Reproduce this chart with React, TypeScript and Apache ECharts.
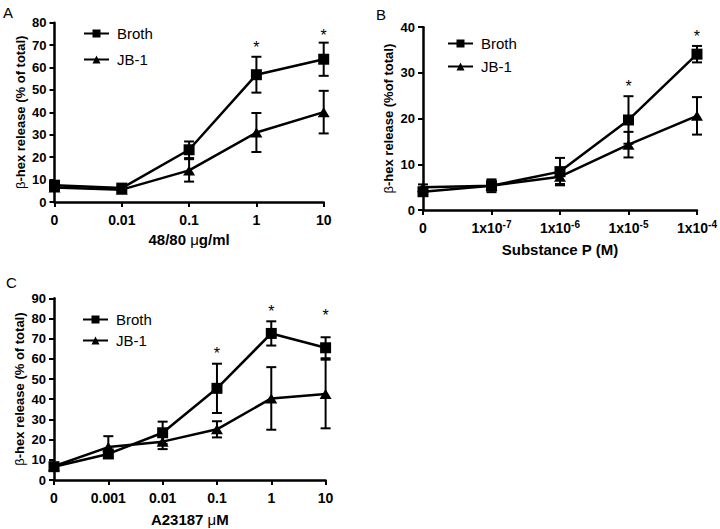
import React, { useEffect, useRef } from "react";
import * as echarts from "echarts";

// Panel A
const catsA = ["0", "0.01", "0.1", "1", "10"];
const brothA = [7.5, 6.2, 23.3, 56.8, 63.7];
const brothErrA = [1.5, 1.2, 3.7, 8.0, 7.4];
const jbA = [6.5, 5.5, 14.1, 31.0, 40.1];
const jbErrA = [1.5, 1.2, 5.0, 8.7, 9.5];
const starsA = [null, null, null, 70.8, 76.0];

// Panel B
const catsB = ["0", "1x10^-7", "1x10^-6", "1x10^-5", "1x10^-4"];
const brothB = [4.0, 5.3, 8.4, 19.7, 34.1];
const brothErrB = [0.7, 1.4, 3.0, 5.2, 1.8];
const jbB = [5.0, 5.3, 7.3, 14.3, 20.6];
const jbErrB = [0.6, 1.0, 1.6, 2.8, 4.1];
const starsB = [null, null, null, 27.9, 38.9];

// Panel C
const catsC = ["0", "0.001", "0.01", "0.1", "1", "10"];
const brothC = [6.6, 12.9, 23.4, 45.4, 72.6, 65.5];
const brothErrC = [1.0, 1.8, 5.5, 12.2, 6.0, 5.2];
const jbC = [6.8, 16.3, 19.0, 25.1, 40.4, 42.6];
const jbErrC = [1.0, 5.4, 3.7, 4.0, 15.5, 17.0];
const starsC = [null, null, null, 64.7, 85.5, 83.7];

const FONT = "'Liberation Sans', Arial, sans-serif";

function errData(vals: number[], errs: number[]) {
  return vals.map((v, i) => [i, v - errs[i], v + errs[i]]);
}

function starData(vals: (number | null)[]) {
  const out: number[][] = [];
  vals.forEach((v, i) => {
    if (v !== null) out.push([i, v]);
  });
  return out;
}

const errRender = (params: any, api: any) => {
  const i = api.value(0);
  const lo = api.coord([i, api.value(1)]);
  const hi = api.coord([i, api.value(2)]);
  const w = 5;
  const style = { stroke: "#000", lineWidth: 2 };
  return {
    type: "group",
    children: [
      { type: "line", shape: { x1: lo[0], y1: lo[1], x2: hi[0], y2: hi[1] }, style },
      { type: "line", shape: { x1: hi[0] - w, y1: hi[1], x2: hi[0] + w, y2: hi[1] }, style },
      { type: "line", shape: { x1: lo[0] - w, y1: lo[1], x2: lo[0] + w, y2: lo[1] }, style },
    ],
  };
};

const starRender = (params: any, api: any) => {
  const p = api.coord([api.value(0), api.value(1)]);
  return {
    type: "text",
    x: p[0],
    y: p[1] + 4,
    style: {
      text: "*",
      fontSize: 16,
      fontFamily: FONT,
      fill: "#000",
      align: "center",
      verticalAlign: "middle",
    },
  };
};

function xAxis(gridIndex: number, cats: string[], name: string, nameGap: number) {
  return {
    type: "category",
    gridIndex,
    data: cats,
    boundaryGap: false,
    name,
    nameLocation: "middle",
    nameGap,
    nameTextStyle: {
      fontSize: 15,
      fontWeight: "bold",
      fontFamily: FONT,
      color: "#000",
      rich: { g: { fontSize: 15, fontWeight: "normal", fontFamily: FONT, color: "#000" } },
    },
    axisLine: { show: true, lineStyle: { color: "#000", width: 2.5 } },
    axisTick: { show: true, inside: false, length: 5, alignWithLabel: true, lineStyle: { color: "#000", width: 2 } },
    axisLabel: {
      show: true,
      interval: 0,
      margin: 9,
      fontSize: 14,
      fontWeight: "bold",
      fontFamily: FONT,
      color: "#000",
      lineHeight: 18,
      formatter: (s: string) => s.replace(/\^(.+)$/, "{sup|$1}"),
      rich: {
        sup: { fontSize: 10, fontWeight: "bold", fontFamily: FONT, color: "#000", lineHeight: 10, verticalAlign: "top" },
      },
    },
    splitLine: { show: false },
  };
}

function yAxis(gridIndex: number, max: number, name: string) {
  return {
    type: "value",
    gridIndex,
    min: 0,
    max,
    interval: 10,
    name,
    nameLocation: "middle",
    nameRotate: 90,
    nameGap: 28,
    nameTextStyle: {
      fontSize: 13,
      fontWeight: "bold",
      fontFamily: FONT,
      color: "#000",
      rich: { g: { fontSize: 13, fontWeight: "normal", fontFamily: FONT, color: "#000" } },
    },
    axisLine: { show: true, lineStyle: { color: "#000", width: 2.5 } },
    axisTick: { show: true, inside: false, length: 5, lineStyle: { color: "#000", width: 2 } },
    axisLabel: { margin: 8, fontSize: 13, fontWeight: "bold", fontFamily: FONT, color: "#000" },
    splitLine: { show: false },
  };
}

function panelSeries(idx: number, broth: number[], bErr: number[], jb: number[], jErr: number[], stars: (number | null)[]) {
  const lineCommon = {
    type: "line",
    xAxisIndex: idx,
    yAxisIndex: idx,
    lineStyle: { color: "#000", width: 2.5 },
    itemStyle: { color: "#000" },
    z: 3,
  };
  return [
    { ...lineCommon, name: "Broth", data: broth, symbol: "rect", symbolSize: 11 },
    { ...lineCommon, name: "JB-1", data: jb, symbol: "triangle", symbolSize: [12, 10] },
    {
      type: "custom",
      xAxisIndex: idx,
      yAxisIndex: idx,
      data: errData(broth, bErr),
      renderItem: errRender,
      encode: { x: 0, y: [1, 2] },
      z: 2,
    },
    {
      type: "custom",
      xAxisIndex: idx,
      yAxisIndex: idx,
      data: errData(jb, jErr),
      renderItem: errRender,
      encode: { x: 0, y: [1, 2] },
      z: 2,
    },
    {
      type: "custom",
      xAxisIndex: idx,
      yAxisIndex: idx,
      data: starData(stars),
      renderItem: starRender,
      encode: { x: 0, y: 1 },
      z: 4,
    },
  ];
}

function legend(left: number, top: number, gap: number) {
  return {
    orient: "vertical",
    left,
    top,
    itemWidth: 25,
    itemHeight: 10,
    itemGap: gap,
    selectedMode: false,
    data: ["Broth", "JB-1"],
    textStyle: { fontSize: 15, fontFamily: FONT, color: "#000", padding: [0, 0, 0, 3] },
  };
}

export default function App() {
  const ref = useRef<HTMLDivElement>(null);
  useEffect(() => {
    if (!ref.current) return;
    const chart = echarts.init(ref.current, null, { renderer: "svg" });
    chart.setOption({
      animation: false,
      backgroundColor: "#fff",
      grid: [
        { left: 54.5, top: 22.7, width: 269.2, height: 179.3 },
        { left: 423, top: 27.2, width: 274.8, height: 182.8 },
        { left: 54, top: 298.3, width: 271.6, height: 181.7 },
      ],
      xAxis: [
        xAxis(0, catsA, "48/80 {g|μ}g/ml", 30),
        xAxis(1, catsB, "Substance P (M)", 32),
        xAxis(2, catsC, "A23187 {g|μ}M", 32),
      ],
      yAxis: [
        yAxis(0, 80, "{g|β}-hex release (% of total)"),
        yAxis(1, 40, "{g|β}-hex release (%of total)"),
        yAxis(2, 90, "{g|β}-hex release (% of total)"),
      ],
      legend: [legend(78, 21, 11), legend(442, 31, 8), legend(77, 307, 6)],
      graphic: [
        { type: "text", left: 3, top: 5, style: { text: "A", fontSize: 15, fontFamily: FONT, fill: "#000" } },
        { type: "text", left: 376, top: 7, style: { text: "B", fontSize: 15, fontFamily: FONT, fill: "#000" } },
        { type: "text", left: 6, top: 275, style: { text: "C", fontSize: 15, fontFamily: FONT, fill: "#000" } },
      ],
      series: [
        ...panelSeries(0, brothA, brothErrA, jbA, jbErrA, starsA),
        ...panelSeries(1, brothB, brothErrB, jbB, jbErrB, starsB),
        ...panelSeries(2, brothC, brothErrC, jbC, jbErrC, starsC),
      ],
    });
    return () => chart.dispose();
  }, []);
  return (
    <div
      ref={ref}
      style={{ position: "absolute", left: 0, top: 0, width: 720, height: 529 }}
    />
  );
}
